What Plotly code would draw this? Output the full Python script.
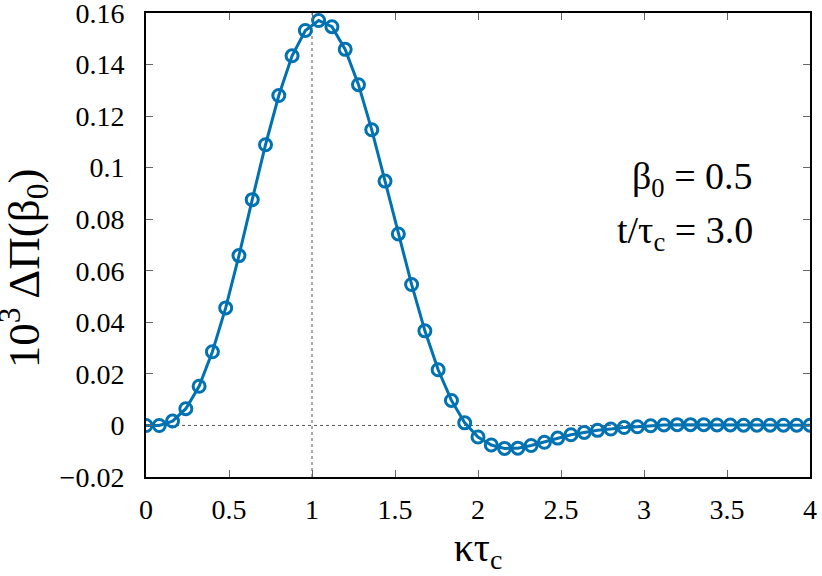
import plotly.graph_objects as go

# kappa*tau_c sampled every 0.08
kt = [round(0.08 * i, 2) for i in range(51)]

# 10^3 * DeltaPi(beta_0)
dpi = [0.0, 0.0, 0.0017, 0.0065, 0.0152, 0.0286, 0.0456, 0.0659,
       0.0876, 0.1089, 0.1280, 0.1434, 0.1532, 0.1571, 0.1547, 0.1459,
       0.1322, 0.1147, 0.0948, 0.0743, 0.0547, 0.0367, 0.0216, 0.0097,
       0.0010, -0.0045, -0.0076, -0.0089, -0.0088, -0.0078, -0.0065, -0.0049,
       -0.0036, -0.0027, -0.0019, -0.0014, -0.0008, -0.0005, -0.0001, 0.0002,
       0.0003, 0.0003, 0.0003, 0.0002, 0.0002, 0.0001, 0.0001, 0.0001,
       0.0001, 0.0001, 0.0001]

ytick_vals = [-0.02, 0, 0.02, 0.04, 0.06, 0.08, 0.1, 0.12, 0.14, 0.16]
ytick_text = ['−0.02', '0', '0.02', '0.04', '0.06', '0.08', '0.1', '0.12', '0.14', '0.16']
xtick_vals = [0, 0.5, 1, 1.5, 2, 2.5, 3, 3.5, 4]
xtick_text = ['0', '0.5', '1', '1.5', '2', '2.5', '3', '3.5', '4']

azul = '#0072B2'
serif = 'Liberation Serif, Times New Roman, serif'

fig = go.Figure()

# lineas guia punteadas
fig.add_shape(type='line', x0=1, x1=1, y0=-0.02, y1=0.16,
              line=dict(color='#555555', width=1, dash='dot'), layer='below')
fig.add_shape(type='line', x0=0, x1=4, y0=0, y1=0,
              line=dict(color='#555555', width=1, dash='dot'), layer='below')

fig.add_trace(go.Scatter(x=kt, y=dpi, mode='lines+markers',
                         line=dict(color=azul, width=3),
                         marker=dict(symbol='circle-open', size=12,
                                     color=azul, line=dict(width=3))))

fig.update_xaxes(range=[0, 4], tickvals=xtick_vals, ticktext=xtick_text,
                 showgrid=False, zeroline=False, automargin=False,
                 ticks='inside', ticklen=7, tickcolor='#666666', ticklabelstandoff=6,
                 ticklabeloverflow='allow',
                 showline=True, linecolor='black', linewidth=2, mirror='allticks',
                 tickfont=dict(family=serif, size=28, color='black'),
                 title=dict(text='κτ<sub>c</sub>', font=dict(family=serif, size=40, color='black'), standoff=2))
fig.update_yaxes(range=[-0.02, 0.16001], tickvals=ytick_vals, ticktext=ytick_text,
                 showgrid=False, zeroline=False, automargin=False,
                 ticks='inside', ticklen=7, tickcolor='#666666', ticklabelstandoff=14,
                 ticklabeloverflow='allow',
                 showline=True, linecolor='black', linewidth=2, mirror='allticks',
                 tickfont=dict(family=serif, size=28, color='black'))

# titulo del eje y como anotacion rotada (para ubicarlo bien a la izquierda)
fig.add_annotation(xref='paper', yref='paper', x=0, y=0.45, xshift=-123,
                   xanchor='center', yanchor='middle', textangle=-90, showarrow=False,
                   text='10<sup>3</sup> ΔΠ(β<sub>0</sub>)', font=dict(family=serif, size=45, color='black'))

fig.add_annotation(x=3.67, y=0.0957, xanchor='right', yanchor='middle', showarrow=False,
                   text='β<sub>0</sub> = 0.5', font=dict(family=serif, size=38, color='black'))
fig.add_annotation(x=3.67, y=0.0748, xanchor='right', yanchor='middle', showarrow=False,
                   text='t/τ<sub>c</sub> = 3.0', font=dict(family=serif, size=38, color='black'))

fig.update_layout(width=822, height=576, showlegend=False, template='none',
                  plot_bgcolor='white', paper_bgcolor='white',
                  margin=dict(l=146, r=12, t=13, b=99),
                  font=dict(family=serif, color='black'))

# quitamos el margen por defecto del body para que la figura quede en (0, 0)
fig.write_html("out.html", config={'displayModeBar': False},
               post_script="document.body.style.margin = '0';")
